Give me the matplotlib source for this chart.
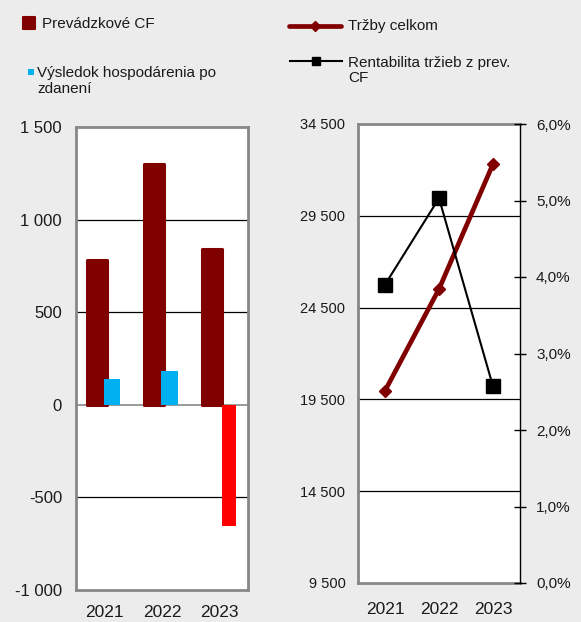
import numpy as np
import matplotlib
matplotlib.use('Agg')
import matplotlib.pyplot as plt
from matplotlib.lines import Line2D
from matplotlib.markers import MarkerStyle
from matplotlib.ticker import FuncFormatter, MultipleLocator

plt.rcParams['font.family'] = ['Liberation Sans', 'DejaVu Sans']

# data
years = ['2021', '2022', '2023']
prevadzkove_cf = [783, 1300, 842]
vysledok_po_zdaneni = [139, 184, -652]
trzby_celkom = [19970, 25510, 32320]
rentabilita = [3.90, 5.03, 2.57]  # %

W, H = 581, 622
BG = '#ECECEC'
DARKRED = '#800000'
BLUE = '#00B0F0'
RED = '#FF0000'
FRAME = '#878787'
TXT = '#1a1a1a'

fig = plt.figure(figsize=(W / 100, H / 100), dpi=100, facecolor=BG)


def box(x0, y0, x1, y1):
    # pixel box (top-left origin) -> figure fraction rect
    return [x0 / W, 1 - y1 / H, (x1 - x0) / W, (y1 - y0) / H]


def px(x, y):
    return x / W, 1 - y / H


def space_thousands(v, pos):
    s = f"{abs(int(round(v))):,}".replace(',', ' ')
    return ('-' if v < 0 else '') + s


# --- left chart: bars ---
ax = fig.add_axes(box(76, 127, 248, 590))
ax.set_facecolor('white')
x = np.arange(len(years))

ax.bar(x - 0.135, prevadzkove_cf, width=0.35, color=DARKRED, edgecolor=DARKRED,
       linewidth=2.2, joinstyle='round', zorder=3)
cols = [BLUE if v >= 0 else RED for v in vysledok_po_zdaneni]
widths = [0.29 if v >= 0 else 0.25 for v in vysledok_po_zdaneni]
offs = [0.127 if v >= 0 else 0.17 for v in vysledok_po_zdaneni]
ax.bar(x + np.array(offs), vysledok_po_zdaneni, width=widths, color=cols, zorder=4)

ax.set_xlim(-0.5, 2.5)
ax.set_ylim(-1000, 1500)
ax.yaxis.set_major_locator(MultipleLocator(500))
ax.yaxis.set_major_formatter(FuncFormatter(space_thousands))
for v in [-500, 500, 1000]:
    ax.axhline(v, color='black', lw=0.9, zorder=1)
ax.axhline(0, color=FRAME, lw=1.2, zorder=2)
ax.set_xticks(x)
ax.set_xticklabels(years)
ax.tick_params(axis='y', length=0, pad=10, labelsize=12, labelcolor=TXT)
ax.tick_params(axis='x', length=0, pad=11, labelsize=12.5, labelcolor=TXT)
for s in ax.spines.values():
    s.set_color(FRAME)
    s.set_linewidth(2)

# --- right chart: lines ---
axr = fig.add_axes(box(358, 124, 520, 583))
axr.set_facecolor('white')
axr.plot(x, trzby_celkom, color=DARKRED, lw=3.4, marker='D', ms=6, zorder=3)
axr.set_xlim(-0.5, 2.5)
axr.set_ylim(9500, 34500)
axr.set_yticks([9500, 14500, 19500, 24500, 29500, 34500])
axr.yaxis.set_major_formatter(FuncFormatter(space_thousands))
for v in [14500, 19500, 24500, 29500]:
    axr.axhline(v, color='black', lw=0.9, zorder=1)
axr.set_xticks(x)
axr.set_xticklabels(years)
axr.tick_params(axis='y', length=0, pad=9, labelsize=10.5, labelcolor=TXT)
axr.tick_params(axis='x', length=0, pad=14, labelsize=12.5, labelcolor=TXT)
for name, s in axr.spines.items():
    s.set_color(FRAME)
    s.set_linewidth(2)
axr.spines['right'].set_visible(False)

ax2 = axr.twinx()
ax2.plot(x, rentabilita, color='black', lw=1.5, marker='s', ms=10, zorder=4)
ax2.set_ylim(0, 6)
ax2.yaxis.set_major_locator(MultipleLocator(1))
ax2.yaxis.set_major_formatter(FuncFormatter(lambda v, p: f"{v:.1f}%".replace('.', ',')))
ax2.tick_params(axis='y', direction='inout', length=9, width=1, pad=7, labelsize=11,
                labelcolor=TXT)
for name in ['left', 'top', 'bottom']:
    ax2.spines[name].set_visible(False)
ax2.spines['right'].set_color('black')
ax2.spines['right'].set_linewidth(1)

# --- legends (manual, as in the original layout) ---
fig.add_artist(Line2D(*zip(px(29, 23)), transform=fig.transFigure, ls='none',
                      marker=MarkerStyle('s', joinstyle='round'), ms=8, color=DARKRED,
                      mew=1.5))
fig.text(*px(42, 24), 'Prevádzkové CF', fontsize=11, va='center', ha='left', color=TXT)
fig.add_artist(Line2D(*zip(px(30.5, 71.5)), transform=fig.transFigure, ls='none',
                      marker='s', ms=5, color=BLUE, mew=0))
fig.text(*px(37, 81), 'Výsledok hospodárenia po\nzdanení', fontsize=11,
         va='center', ha='left', linespacing=1.15, color=TXT)

(x0, y0), (x1, _) = px(289, 26), px(341, 26)
fig.add_artist(Line2D([x0, x1], [y0, y0], transform=fig.transFigure, color=DARKRED,
                      lw=3.4, solid_capstyle='round'))
fig.add_artist(Line2D([(x0 + x1) / 2], [y0], transform=fig.transFigure, ls='none',
                      marker='D', ms=5, color=DARKRED))
fig.text(*px(348, 26), 'Tržby celkom', fontsize=11, va='center', ha='left', color=TXT)

(x0, y0), (x1, _) = px(290, 61), px(342, 61)
fig.add_artist(Line2D([x0, x1], [y0, y0], transform=fig.transFigure, color='black',
                      lw=1.5))
fig.add_artist(Line2D([(x0 + x1) / 2], [y0], transform=fig.transFigure, ls='none',
                      marker='s', ms=5.5, color='black'))
fig.text(*px(348, 70.5), 'Rentabilita tržieb z prev.\nCF', fontsize=11,
         va='center', ha='left', linespacing=1.15, color=TXT)

fig.savefig('out.png', dpi=100, facecolor=BG)
